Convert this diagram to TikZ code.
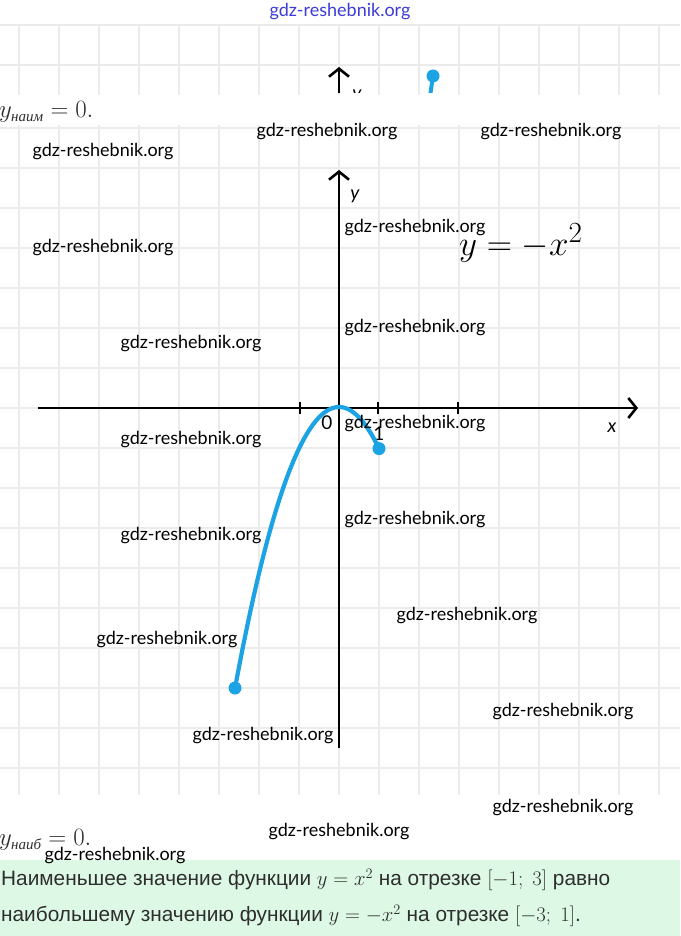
\documentclass[tikz,border=0pt]{standalone}
\usepackage{fontspec}
\newfontfamily\wmfont{Lato}
\newfontfamily\rufont{Liberation Sans}
\newfontfamily\cyrserif{Liberation Serif}
\usetikzlibrary{arrows.meta}

\definecolor{gridgray}{HTML}{EBEBEB}
\definecolor{curveblue}{HTML}{1CA3E3}
\definecolor{notegreen}{HTML}{DDF9E6}
\definecolor{wmblue}{HTML}{3C3CD8}
\definecolor{textgray}{HTML}{2E2E2E}

\begin{document}
\begin{tikzpicture}[x=1pt,y=-1pt,
  axis/.style={line width=2.6pt,-{Straight Barb[length=8pt,width=20pt,line width=2.6pt]}},
  grid line/.style={gridgray,line width=1.6pt},
  wm/.style={font=\wmfont\fontsize{18}{20}\selectfont,text=black,inner sep=0pt},
  dot/.style={circle,fill=curveblue,inner sep=0pt,minimum size=13pt},
  lbl/.style={font=\wmfont\fontsize{19}{21}\selectfont,inner sep=0pt},
  note/.style={anchor=west,inner sep=0pt,text=textgray,font=\rufont\fontsize{20.8}{22}\selectfont}]

\useasboundingbox (0,0) rectangle (680,936);
\fill[white] (0,0) rectangle (680,936);

% grid
\draw[grid line] (0,25) -- (680,25) (0,65) -- (680,65);
\foreach \gx in {19,59,...,659} \draw[grid line] (\gx,25) -- (\gx,95);
\foreach \gy in {128,168,...,768} \draw[grid line] (0,\gy) -- (680,\gy);
\foreach \gx in {19,59,...,659} \draw[grid line] (\gx,125) -- (\gx,795);

% previous graph, cut off
\begin{scope}
  \clip (0,22) rectangle (680,93);
  \coordinate (oldbot) at (339,110);
  \coordinate (oldtop) at (339,67);
  \draw[axis] (oldbot) -- (oldtop);
  \node[lbl,font=\wmfont\itshape\fontsize{19}{21}\selectfont] (oldy) at (357,96) {y};
  \node[dot] (olddot) at (433,76) {};
  \coordinate (oldend) at (428,110);
  \draw[curveblue,line width=4pt] (olddot.center) -- (oldend);
\end{scope}

\node[anchor=west,inner sep=0pt,text=textgray,font=\fontsize{24.88}{27}\selectfont] (ymin) at (-1,112)
  {$y_{\hbox{\cyrserif\itshape\fontsize{15}{15}\selectfont наим}} = 0.$};

% axes
\coordinate (xl) at (38,408);
\coordinate (xr) at (638,408);
\coordinate (yb) at (339,748);
\coordinate (yt) at (339,170);
\draw[axis] (xl) -- (xr);
\draw[axis] (yb) -- (yt);
\foreach \tx in {300,378,458} \draw[line width=2.4pt] (\tx,402) -- (\tx,414);

\node[lbl] (zero) at (327,423) {0};
\node[lbl] (one) at (379,434) {1};
\node[lbl,font=\wmfont\itshape\fontsize{19}{21}\selectfont] (xlab) at (612,428) {x};
\node[lbl,font=\wmfont\itshape\fontsize{19}{21}\selectfont] (ylab) at (355,196) {y};

% y = -x^2 on [-3; 1]
\draw[curveblue,line width=4.2pt] plot[domain=-2.6:1,samples=60,smooth] ({339+40*\x},{407+41.6*\x*\x});
\node[dot] (left) at (235,688) {};
\node[dot] (right) at (379,448.6) {};

\node[inner sep=0pt,font=\fontsize{24.88}{27}\selectfont,scale=1.41,transform shape] (func) at (521,243) {$y=-x^2$};

% answer
\node[anchor=west,inner sep=0pt,text=textgray,font=\fontsize{24.88}{27}\selectfont] (ymax) at (-1,840)
  {$y_{\hbox{\cyrserif\itshape\fontsize{15}{15}\selectfont наиб}} = 0.$};
\fill[notegreen] (0,860) rectangle (680,936);
\node[note] (line1) at (1,880) {Наименьшее значение функции \fontsize{20.74}{24}\selectfont$y = x^2$ \fontsize{20.8}{22}\selectfont на отрезке \fontsize{20.74}{24}\selectfont$[-1;\ 3]$ \fontsize{20.8}{22}\selectfont равно};
\node[note] (line2) at (1,916) {наибольшему значению функции \fontsize{20.74}{24}\selectfont$y = -x^2$ \fontsize{20.8}{22}\selectfont на отрезке \fontsize{20.74}{24}\selectfont$[-3;\ 1]$\fontsize{20.8}{22}\selectfont.};

% watermarks
\node[wm,text=wmblue] (wm0) at (340,12) {gdz-reshebnik.org};
\node[wm] (wm1) at (327,132) {gdz-reshebnik.org};
\node[wm] (wm2) at (551,132) {gdz-reshebnik.org};
\node[wm] (wm3) at (103,152) {gdz-reshebnik.org};
\node[wm] (wm4) at (415,228) {gdz-reshebnik.org};
\node[wm] (wm5) at (103,248) {gdz-reshebnik.org};
\node[wm] (wm6) at (415,328) {gdz-reshebnik.org};
\node[wm] (wm7) at (191,344) {gdz-reshebnik.org};
\node[wm] (wm8) at (415,424) {gdz-reshebnik.org};
\node[wm] (wm9) at (191,440) {gdz-reshebnik.org};
\node[wm] (wm10) at (415,520) {gdz-reshebnik.org};
\node[wm] (wm11) at (191,536) {gdz-reshebnik.org};
\node[wm] (wm12) at (467,616) {gdz-reshebnik.org};
\node[wm] (wm13) at (167,640) {gdz-reshebnik.org};
\node[wm] (wm14) at (563,712) {gdz-reshebnik.org};
\node[wm] (wm15) at (263,736) {gdz-reshebnik.org};
\node[wm] (wm16) at (563,808) {gdz-reshebnik.org};
\node[wm] (wm17) at (339,832) {gdz-reshebnik.org};
\node[wm] (wm18) at (115,856) {gdz-reshebnik.org};

\end{tikzpicture}
\end{document}
